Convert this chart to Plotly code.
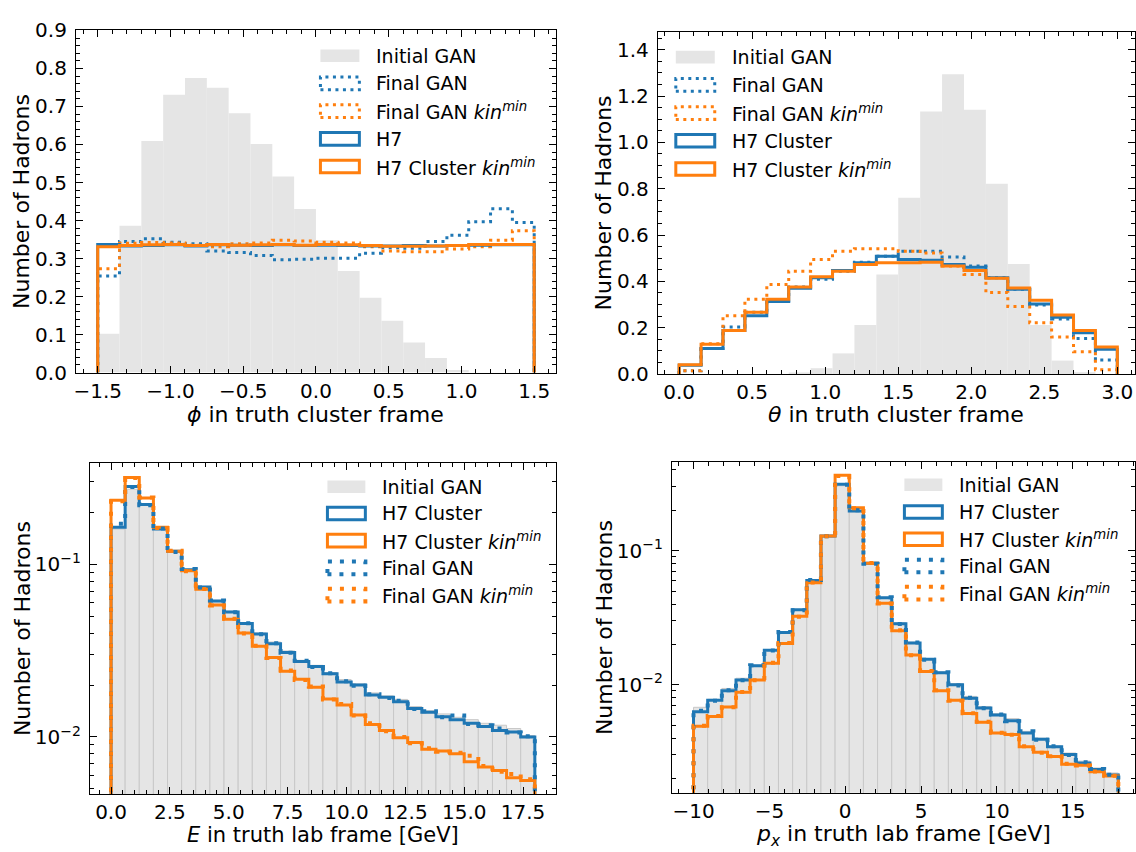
import plotly.graph_objects as go

W, H = 1136, 852
FONT = "DejaVu Sans"
GREY = "#e5e5e5"
BLUE = "#1f77b4"
ORANGE = "#ff7f0e"

# ---------------- data ----------------
# phi in truth cluster frame (20 bins, -1.5 .. 1.5)
phi_range = (-1.5, 1.5)
phi_initial_gan = [0.102, 0.386, 0.609, 0.731, 0.775, 0.749, 0.682, 0.601, 0.516, 0.430,
                   0.348, 0.267, 0.197, 0.136, 0.079, 0.038, 0.007, 0.0, 0.0, 0.0]
phi_final_gan = [0.254, 0.345, 0.352, 0.343, 0.339, 0.320, 0.316, 0.308, 0.297, 0.298,
                 0.301, 0.301, 0.314, 0.328, 0.327, 0.345, 0.361, 0.397, 0.431, 0.395]
phi_final_gan_kin = [0.273, 0.340, 0.342, 0.341, 0.335, 0.331, 0.339, 0.341, 0.348, 0.346,
                     0.343, 0.341, 0.331, 0.320, 0.318, 0.318, 0.325, 0.331, 0.348, 0.373]
phi_h7 = [0.337, 0.333, 0.334, 0.336, 0.333, 0.336, 0.335, 0.334, 0.336, 0.334,
          0.335, 0.334, 0.333, 0.333, 0.334, 0.333, 0.334, 0.335, 0.336, 0.336]
phi_h7_kin = [0.331, 0.334, 0.336, 0.337, 0.334, 0.337, 0.335, 0.336, 0.337, 0.335,
              0.337, 0.336, 0.334, 0.332, 0.332, 0.333, 0.334, 0.337, 0.337, 0.337]

# theta in truth cluster frame (20 bins, 0 .. 3)
theta_range = (0.0, 3.0)
theta_initial_gan = [0.0, 0.0, 0.0, 0.0, 0.0, 0.003, 0.025, 0.089, 0.212, 0.430,
                     0.761, 1.133, 1.294, 1.141, 0.821, 0.475, 0.212, 0.058, 0.008, 0.0]
theta_final_gan = [0.014, 0.110, 0.203, 0.267, 0.316, 0.376, 0.409, 0.444, 0.483, 0.508,
                   0.530, 0.530, 0.505, 0.466, 0.416, 0.366, 0.298, 0.238, 0.153, 0.061]
theta_final_gan_kin = [0.014, 0.131, 0.252, 0.323, 0.387, 0.444, 0.494, 0.530, 0.541, 0.541,
                       0.530, 0.522, 0.466, 0.430, 0.352, 0.291, 0.221, 0.160, 0.096, 0.018]
theta_h7 = [0.038, 0.110, 0.188, 0.252, 0.313, 0.370, 0.416, 0.447, 0.480, 0.508,
            0.494, 0.491, 0.473, 0.461, 0.416, 0.366, 0.302, 0.245, 0.178, 0.107]
theta_h7_kin = [0.040, 0.129, 0.188, 0.267, 0.323, 0.376, 0.420, 0.444, 0.473, 0.480,
                0.480, 0.483, 0.466, 0.447, 0.413, 0.371, 0.319, 0.255, 0.188, 0.117]

# E in truth lab frame (30 bins, 0 .. 18 GeV)
E_range = (0.0, 18.0)
E_initial_gan = [0.160, 0.272, 0.222, 0.160, 0.118, 0.093, 0.0745, 0.0618, 0.0535, 0.0460,
                 0.0400, 0.0355, 0.0315, 0.0278, 0.0260, 0.0236, 0.0215, 0.0203, 0.0180, 0.0173,
                 0.0165, 0.0150, 0.0142, 0.0136, 0.0130, 0.0126, 0.0120, 0.0117, 0.0112, 0.0102]
E_h7 = [0.164, 0.282, 0.222, 0.160, 0.119, 0.093, 0.0739, 0.0614, 0.0530, 0.0454,
        0.0395, 0.0347, 0.0309, 0.0274, 0.0256, 0.0232, 0.0208, 0.0200, 0.0175, 0.0170,
        0.0160, 0.0146, 0.0139, 0.0131, 0.0126, 0.0120, 0.0115, 0.0109, 0.0107, 0.0100]
E_h7_kin = [0.235, 0.318, 0.242, 0.164, 0.119, 0.0917, 0.0716, 0.0582, 0.0480, 0.0400,
            0.0335, 0.0289, 0.0240, 0.0216, 0.0194, 0.0166, 0.0153, 0.0134, 0.0118, 0.0109,
            0.0099, 0.0093, 0.0085, 0.0083, 0.0080, 0.0072, 0.0067, 0.0064, 0.0058, 0.0056]
E_final_gan = [0.172, 0.280, 0.220, 0.161, 0.118, 0.094, 0.0735, 0.0618, 0.0528, 0.0456,
               0.0393, 0.0349, 0.0307, 0.0276, 0.0254, 0.0234, 0.0210, 0.0198, 0.0177, 0.0168,
               0.0162, 0.0145, 0.0141, 0.0130, 0.0133, 0.0119, 0.0117, 0.0112, 0.0106, 0.0101]
E_final_gan_kin = [0.232, 0.316, 0.244, 0.162, 0.120, 0.0910, 0.0720, 0.0578, 0.0484, 0.0398,
                   0.0338, 0.0287, 0.0243, 0.0214, 0.0196, 0.0165, 0.0155, 0.0133, 0.0120, 0.0108,
                   0.0100, 0.0092, 0.0086, 0.0082, 0.0081, 0.0078, 0.0068, 0.0063, 0.0061, 0.0057]

# px in truth lab frame (30 bins, -10 .. 18 GeV)
px_range = (-10.0, 18.0)
px_initial_gan = [0.0068, 0.0078, 0.0094, 0.0112, 0.0140, 0.0183, 0.0245, 0.0360, 0.0590, 0.126,
                  0.305, 0.195, 0.0800, 0.0450, 0.0290, 0.0208, 0.0157, 0.0125, 0.0102, 0.0082,
                  0.0069, 0.0061, 0.0056, 0.0045, 0.0040, 0.0035, 0.0031, 0.0027, 0.0024, 0.0022]
px_h7 = [0.00630, 0.00766, 0.00905, 0.01087, 0.01387, 0.0181, 0.0246, 0.0363, 0.0600, 0.129,
         0.313, 0.198, 0.0805, 0.0446, 0.0286, 0.0205, 0.0155, 0.0123, 0.0100, 0.00796,
         0.00673, 0.00596, 0.00539, 0.00438, 0.00393, 0.00345, 0.00302, 0.00261, 0.00234, 0.00213]
px_h7_kin = [0.00491, 0.00580, 0.00685, 0.00879, 0.01087, 0.0145, 0.0203, 0.0325, 0.0577, 0.129,
             0.365, 0.209, 0.0805, 0.0406, 0.0253, 0.0167, 0.0126, 0.00905, 0.00766, 0.00612,
             0.00527, 0.00438, 0.00427, 0.00345, 0.00314, 0.00292, 0.00256, 0.00252, 0.00225, 0.00209]
px_final_gan = [0.00640, 0.00760, 0.00910, 0.01080, 0.01400, 0.0180, 0.0248, 0.0360, 0.0605, 0.128,
                0.310, 0.200, 0.0800, 0.0450, 0.0284, 0.0207, 0.0154, 0.0124, 0.0099, 0.00800,
                0.00670, 0.00600, 0.00535, 0.00450, 0.00390, 0.00348, 0.00300, 0.00265, 0.00236, 0.00214]
px_final_gan_kin = [0.00495, 0.00585, 0.00680, 0.00885, 0.01080, 0.0146, 0.0205, 0.0322, 0.0580, 0.128,
                    0.360, 0.207, 0.0810, 0.0404, 0.0255, 0.0166, 0.0127, 0.00910, 0.00760, 0.00615,
                    0.00530, 0.00440, 0.00425, 0.00348, 0.00312, 0.00294, 0.00258, 0.00250, 0.00226, 0.00210]

# ---------------- helpers ----------------
def edges_of(rng, n):
    a, b = rng
    return [a + (b - a) * i / n for i in range(n + 1)]


def step_xy(edges, vals, floor):
    x = [edges[0]] + list(edges[:-1]) + [edges[-1], edges[-1]]
    y = [floor] + list(vals) + [vals[-1], floor]
    return x, y


fig = go.Figure()


def add_panel(idx, rng, initial, series, floor, bar_edge):
    n = len(initial)
    e = edges_of(rng, n)
    centers = [(e[i] + e[i + 1]) / 2 for i in range(n)]
    width = e[1] - e[0]
    xa = "x" if idx == 1 else f"x{idx}"
    ya = "y" if idx == 1 else f"y{idx}"
    yb = [v if v > 0 else None for v in initial]
    fig.add_trace(go.Bar(x=centers, y=yb, width=[width] * n, xaxis=xa, yaxis=ya,
                         marker=dict(color=GREY,
                                     line=dict(color="#c8c8c8" if bar_edge else GREY,
                                               width=1 if bar_edge else 0)),
                         showlegend=False, hoverinfo="skip"))
    for vals, color, dash, lw in series:
        x, y = step_xy(e, vals, floor)
        fig.add_trace(go.Scatter(x=x, y=y, mode="lines", xaxis=xa, yaxis=ya,
                                 line=dict(color=color, width=lw, dash=dash, shape="hv"),
                                 showlegend=False, hoverinfo="skip"))


DOT_TOP = "3px,4.5px"
DOT_BOT = "4px,8px"

add_panel(1, phi_range, phi_initial_gan,
          [(phi_final_gan, BLUE, DOT_TOP, 3), (phi_final_gan_kin, ORANGE, DOT_TOP, 3),
           (phi_h7, BLUE, "solid", 3), (phi_h7_kin, ORANGE, "solid", 3)], 0.0, False)
add_panel(2, theta_range, theta_initial_gan,
          [(theta_final_gan, BLUE, DOT_TOP, 3), (theta_final_gan_kin, ORANGE, DOT_TOP, 3),
           (theta_h7, BLUE, "solid", 3), (theta_h7_kin, ORANGE, "solid", 3)], 0.0, False)
add_panel(3, E_range, E_initial_gan,
          [(E_h7, BLUE, "solid", 3), (E_h7_kin, ORANGE, "solid", 3),
           (E_final_gan, BLUE, DOT_BOT, 4), (E_final_gan_kin, ORANGE, DOT_BOT, 4)], 1e-6, True)
add_panel(4, px_range, px_initial_gan,
          [(px_h7, BLUE, "solid", 3), (px_h7_kin, ORANGE, "solid", 3),
           (px_final_gan, BLUE, DOT_BOT, 4), (px_final_gan_kin, ORANGE, DOT_BOT, 4)], 1e-6, True)

# ---------------- axes ----------------
def dx(a, b):
    return [a / W, b / W]


def dy(top, bottom):
    return [1 - bottom / H, 1 - top / H]


tickfont = dict(family=FONT, size=20, color="black")


def axis(domain, anchor, rng, dtick, minor_dtick, fmt=None, log=False, tickvals=None, ticktext=None,
         standoff=None):
    d = dict(domain=domain, anchor=anchor, range=rng, showline=True, linecolor="black", linewidth=1,
             mirror="allticks", ticks="inside", ticklen=7, tickwidth=1, tickcolor="black",
             showgrid=False, zeroline=False, tickfont=tickfont,
             minor=dict(ticks="inside", ticklen=4, tickwidth=1, tickcolor="black", dtick=minor_dtick,
                        showgrid=False))
    if log:
        d["type"] = "log"
        d["tickvals"] = tickvals
        d["ticktext"] = ticktext
    else:
        d["dtick"] = dtick
        d["tick0"] = 0
        if fmt:
            d["tickformat"] = fmt
    if standoff is not None:
        d["ticklabelstandoff"] = standoff
    return d


LOGVALS = [0.01, 0.1]
LOGTEXT = ["10<sup>−2</sup>", "10<sup>−1</sup>"]

fig.update_layout(
    width=W, height=H, margin=dict(l=0, r=0, t=0, b=0),
    paper_bgcolor="white", plot_bgcolor="white", showlegend=False, barmode="overlay",
    font=dict(family=FONT, color="black"),
    xaxis=axis(dx(74, 555), "y", [-1.65, 1.65], 0.5, 0.1, ".1f"),
    yaxis=axis(dy(19, 371), "x", [0, 0.9], 0.1, 0.02, ".1f", standoff=4),
    xaxis2=axis(dx(657, 1135), "y2", [-0.146, 3.121], 0.5, 0.1, ".1f"),
    yaxis2=axis(dy(21, 372.5), "x2", [0, 1.475], 0.2, 0.05, ".1f", standoff=4),
    xaxis3=axis(dx(88, 555), "y3", [-0.9, 18.9], 2.5, 0.5, ".1f"),
    yaxis3=axis(dy(464, 805), "x3", [-2.332, -0.413], None, "D1", log=True,
                tickvals=LOGVALS, ticktext=LOGTEXT, standoff=4),
    xaxis4=axis(dx(671, 1135), "y4", [-11.43, 19.10], 5, 1, "d"),
    yaxis4=axis(dy(462.7, 803.3), "x4", [-2.804, -0.336], None, "D1", log=True,
                tickvals=LOGVALS, ticktext=LOGTEXT, standoff=4),
)

# ---------------- axis titles ----------------
ann = []


def text(x, y, s, size, angle=0, xanchor="center", yanchor="middle"):
    ann.append(dict(x=x / W, y=1 - y / H, xref="paper", yref="paper", text=s, showarrow=False,
                    xanchor=xanchor, yanchor=yanchor, textangle=angle,
                    font=dict(family=FONT, size=size, color="black")))


text(314.5, 399, "<i>ϕ</i> in truth cluster frame", 22, yanchor="top")
text(896, 399, "<i>θ</i> in truth cluster frame", 22, yanchor="top")
text(321.5, 832, "<i>E</i> in truth lab frame [GeV]", 21, yanchor="top")
text(903, 830, "<i>p<sub>x</sub></i> in truth lab frame [GeV]", 22, yanchor="top")
for xc, yc in [(19.5, 195), (603, 196), (20, 634), (603, 633)]:
    text(xc, yc, "Number of Hadrons", 22, angle=-90)

# ---------------- legends (drawn as patches + text) ----------------
shapes = []
KIN = " <i>kin<sup>min</sup></i>"


def legend(px0, px1, tx, ys, entries, ph, dot, dotw):
    for yc, (label, kind, color) in zip(ys, entries):
        y0 = 1 - (yc + ph / 2) / H
        y1 = 1 - (yc - ph / 2) / H
        if kind == "fill":
            shapes.append(dict(type="rect", xref="paper", yref="paper", x0=px0 / W, x1=px1 / W,
                               y0=y0, y1=y1, fillcolor=GREY, line=dict(width=0)))
        else:
            dash = "solid" if kind == "solid" else dot
            lw = 3 if kind == "solid" else dotw
            shapes.append(dict(type="rect", xref="paper", yref="paper", x0=px0 / W, x1=px1 / W,
                               y0=y0, y1=y1, fillcolor="rgba(0,0,0,0)",
                               line=dict(color=color, width=lw, dash=dash)))
        text(tx, yc, label, 19, xanchor="left")


legend(319, 358, 373, [45, 73.5, 102, 130.5, 159],
       [("Initial GAN", "fill", GREY), ("Final GAN", "dot", BLUE), ("Final GAN" + KIN, "dot", ORANGE),
        ("H7", "solid", BLUE), ("H7 Cluster" + KIN, "solid", ORANGE)], 13, DOT_TOP, 3)
legend(675, 714, 729, [46.5, 75, 104, 132.5, 161.5],
       [("Initial GAN", "fill", GREY), ("Final GAN", "dot", BLUE), ("Final GAN" + KIN, "dot", ORANGE),
        ("H7 Cluster", "solid", BLUE), ("H7 Cluster" + KIN, "solid", ORANGE)], 13, DOT_TOP, 3)
legend(326, 364, 379, [488.5, 516, 544, 572, 600],
       [("Initial GAN", "fill", GREY), ("H7 Cluster", "solid", BLUE), ("H7 Cluster" + KIN, "solid", ORANGE),
        ("Final GAN", "dot", BLUE), ("Final GAN" + KIN, "dot", ORANGE)], 13, DOT_BOT, 4)
legend(904, 942, 957, [486.5, 514.5, 542.5, 570, 598],
       [("Initial GAN", "fill", GREY), ("H7 Cluster", "solid", BLUE), ("H7 Cluster" + KIN, "solid", ORANGE),
        ("Final GAN", "dot", BLUE), ("Final GAN" + KIN, "dot", ORANGE)], 13, DOT_BOT, 4)

fig.update_layout(annotations=ann, shapes=shapes)

fig.write_html("out.html", config={"displayModeBar": False},
               post_script="document.body.style.margin='0';document.body.style.overflow='hidden';")
